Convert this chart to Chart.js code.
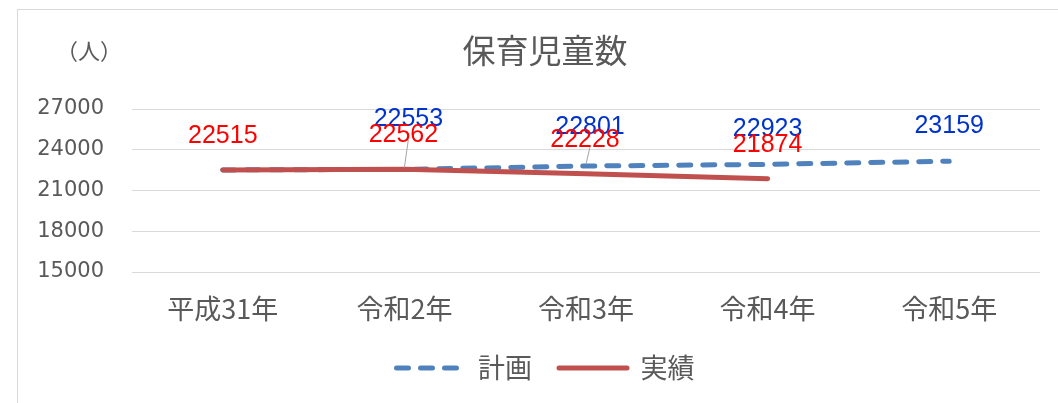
<!DOCTYPE html>
<html lang="ja">
<head>
<meta charset="utf-8">
<title>保育児童数</title>
<script src="https://cdn.jsdelivr.net/npm/chart.js"></script>
<style>
  html, body { margin: 0; padding: 0; background: #fff; }
  #chart { display: block; }
</style>
</head>
<body>
<canvas id="chart" width="1058" height="403"></canvas>
<script>
// data
const years = ['平成31年', '令和2年', '令和3年', '令和4年', '令和5年'];
const plan = [22515, 22553, 22801, 22923, 23159];
const actual = [22515, 22562, 22228, 21874, null];
const yMin = 15000;
const yMax = 27000;
const yStep = 3000;

const GRAY = '#595959';
const JP = '"Noto Sans CJK JP", "Noto Sans", sans-serif';
const NUM = '"Liberation Sans", Arial, sans-serif';

// where each value label sits relative to its point [dx, dy, leader line?]
const labelSets = [
    { index: 0, color: '#0033cc', offsets: [null, [4, -50, true], [4, -39, true], [0, -35], [0, -35]] },
    { index: 1, color: '#ff0000', offsets: [[0, -34], [-1, -34], [-1, -34], [0, -34], null] }
];

const frame = {
    id: 'frame',
    beforeDraw(chart) {
        const ctx = chart.ctx;
        ctx.save();
        ctx.fillStyle = '#fff';
        ctx.fillRect(0, 0, chart.width, chart.height);
        ctx.strokeStyle = '#d9d9d9';
        ctx.lineWidth = 1;
        ctx.strokeRect(17.5, 9.5, 1200, 600);
        ctx.fillStyle = GRAY;
        ctx.textAlign = 'center';
        ctx.textBaseline = 'middle';
        // title
        ctx.font = '33px ' + JP;
        ctx.fillText('保育児童数', 545, 50);
        // unit label
        ctx.font = '22px ' + JP;
        ctx.fillText('（人）', 89, 51);
        ctx.restore();
    }
};

const valueLabels = {
    id: 'valueLabels',
    afterDatasetsDraw(chart) {
        const ctx = chart.ctx;
        ctx.save();
        // leader lines first
        ctx.strokeStyle = '#a6a6a6';
        ctx.lineWidth = 1;
        labelSets.forEach(set => {
            const meta = chart.getDatasetMeta(set.index);
            meta.data.forEach((pt, i) => {
                const off = set.offsets[i];
                if (!off || !off[2]) return;
                ctx.beginPath();
                ctx.moveTo(pt.x + off[0], pt.y + off[1] + 20);
                ctx.lineTo(pt.x, pt.y - 2);
                ctx.stroke();
            });
        });
        ctx.font = '25px ' + NUM;
        ctx.textAlign = 'center';
        ctx.textBaseline = 'middle';
        labelSets.forEach(set => {
            const meta = chart.getDatasetMeta(set.index);
            const values = chart.data.datasets[set.index].data;
            meta.data.forEach((pt, i) => {
                const off = set.offsets[i];
                if (!off || values[i] == null) return;
                ctx.fillStyle = set.color;
                ctx.fillText(String(values[i]), pt.x + off[0], pt.y + off[1]);
            });
        });
        ctx.restore();
    }
};

new Chart(document.getElementById('chart'), {
    type: 'line',
    data: {
        labels: years,
        datasets: [
            {
                label: '計画',
                data: plan,
                borderColor: '#4f81bd',
                backgroundColor: '#4f81bd',
                borderWidth: 5,
                borderDash: [12, 12],
                borderCapStyle: 'round',
                pointRadius: 0,
                tension: 0,
                order: 1
            },
            {
                label: '実績',
                data: actual,
                borderColor: '#c0504d',
                backgroundColor: '#c0504d',
                borderWidth: 5,
                borderCapStyle: 'round',
                pointRadius: 0,
                tension: 0,
                order: 0
            }
        ]
    },
    options: {
        responsive: false,
        animation: false,
        layout: { padding: { left: 34, right: 1, top: 109, bottom: 11.5 } },
        plugins: {
            title: { display: false },
            legend: {
                position: 'bottom',
                labels: {
                    color: GRAY,
                    font: { family: JP, size: 27 },
                    usePointStyle: true,
                    pointStyle: 'line',
                    pointStyleWidth: 68,
                    boxHeight: 10,
                    padding: 27,
                    sort: (a, b) => a.datasetIndex - b.datasetIndex,
                    generateLabels: chart => Chart.defaults.plugins.legend.labels.generateLabels(chart).map(item => {
                        const ds = chart.data.datasets[item.datasetIndex];
                        item.lineDash = ds.borderDash || [];
                        item.lineCap = 'round';
                        return item;
                    })
                }
            },
            tooltip: { enabled: false }
        },
        scales: {
            x: {
                offset: true,
                grid: { display: false, drawTicks: false },
                border: { display: false },
                ticks: {
                    color: GRAY,
                    font: { family: JP, size: 27 },
                    padding: 21,
                    maxRotation: 0
                },
                afterFit: s => { s.height = 55.5; }
            },
            y: {
                min: yMin,
                max: yMax,
                grid: { color: '#d9d9d9', drawTicks: false },
                border: { display: false },
                ticks: {
                    stepSize: yStep,
                    color: GRAY,
                    font: { family: '"DejaVu Sans", sans-serif', size: 21 },
                    padding: 28,
                    callback: v => String(v)
                },
                afterFit: s => { s.width = 98; }
            },
            // empty strip on the right so the plot ends where the reference's does
            yRight: {
                position: 'right',
                display: true,
                grid: { display: false, drawTicks: false },
                border: { display: false },
                ticks: { display: false },
                afterFit: s => { s.width = 17; }
            }
        }
    },
    plugins: [frame, valueLabels]
});
</script>
</body>
</html>
